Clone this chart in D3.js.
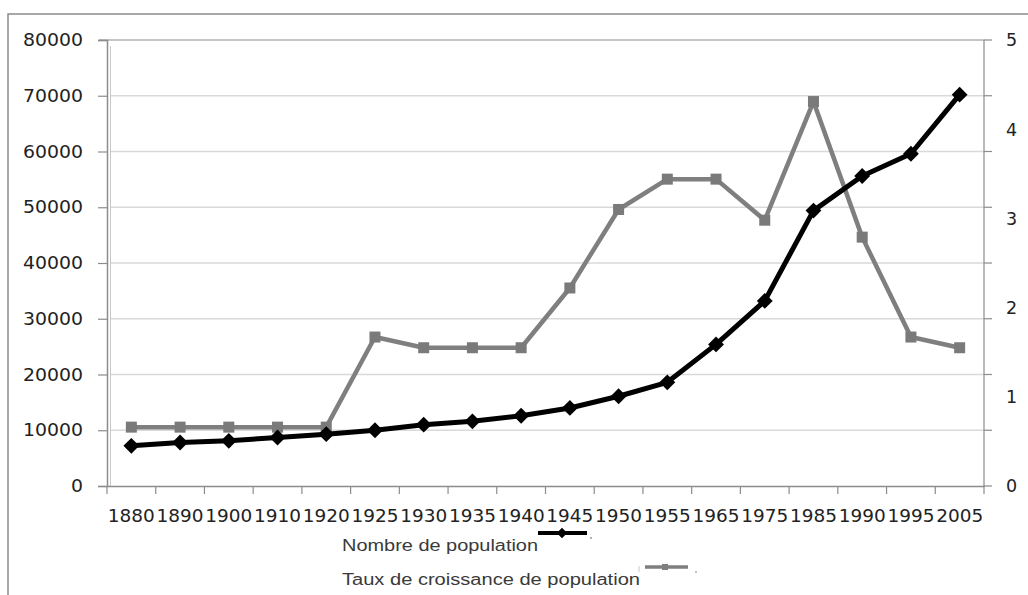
<!DOCTYPE html>
<html><head><meta charset="utf-8">
<script src="https://cdn.jsdelivr.net/npm/d3@7"></script>
<style>html,body{margin:0;padding:0;background:#fff;}svg{display:block;}</style>
</head><body>
<svg id="c" width="1028" height="595"></svg>
<script>
const years = ["1880","1890","1900","1910","1920","1925","1930","1935","1940","1945","1950","1955","1965","1975","1985","1990","1995","2005"];
const population = [7200,7800,8100,8700,9300,10000,11000,11600,12600,14000,16100,18600,25400,33200,49400,55600,59600,70200];
const growthRate = [0.66,0.66,0.66,0.66,0.66,1.67,1.55,1.55,1.55,2.22,3.1,3.44,3.44,2.98,4.31,2.79,1.67,1.55];
const leftTicks = [0,10000,20000,30000,40000,50000,60000,70000,80000];
const rightTicks = [0,1,2,3,4,5];
const seriesNames = ["Nombre de population","Taux de croissance de population"];

const svg = d3.select("#c");
const L = 107, R = 984, T = 40, B = 486;
const x = d3.scaleBand().domain(years).range([L, R]);
const yL = d3.scaleLinear().domain([0, 80000]).range([B, T]);
const yR = d3.scaleLinear().domain([0, 5]).range([B, T]);

// outer border
svg.append("path").attr("d","M8,595V14H1028").attr("fill","none").attr("stroke","#8c8c8c").attr("stroke-width",1.5);

// gridlines
svg.append("g").selectAll("line").data(leftTicks.filter(d=>d>0 && d<80000)).join("line")
  .attr("x1",L+3).attr("x2",R).attr("y1",d=>yL(d)).attr("y2",d=>yL(d))
  .attr("stroke","#d9d9d9").attr("stroke-width",1.5);

// plot border top/right
svg.append("path").attr("d",`M${L-8},${T}H${R}V${B}`).attr("fill","none").attr("stroke","#8c8c8c").attr("stroke-width",1.2);
svg.append("line").attr("x1",L+3.5).attr("x2",L+3.5).attr("y1",T+6).attr("y2",B).attr("stroke","#c8c8c8").attr("stroke-width",1);

// left axis
const gL = svg.append("g").attr("transform",`translate(${L},0)`)
  .call(d3.axisLeft(yL).tickValues(leftTicks).tickSize(9).tickPadding(15).tickFormat(d3.format("d")));
gL.select(".domain").attr("stroke","#8c8c8c").attr("stroke-width",1.5);
gL.selectAll(".tick line").attr("stroke","#8c8c8c").attr("stroke-width",1.2);
gL.selectAll("text").attr("font-family","DejaVu Sans").attr("font-size",17.5).attr("fill","#222")
  .attr("textLength",d=>String(d).length*12).attr("lengthAdjust","spacingAndGlyphs");

// right axis: ticks at left-grid positions, labels at right values
const gR = svg.append("g").attr("transform",`translate(${R},0)`);
gR.selectAll("line").data(leftTicks).join("line")
  .attr("x1",0).attr("x2",8).attr("y1",d=>yL(d)).attr("y2",d=>yL(d)).attr("stroke","#8c8c8c").attr("stroke-width",1.2);
gR.selectAll("text").data(rightTicks).join("text")
  .attr("x",22).attr("y",d=>yR(d)).attr("dy","0.36em")
  .attr("font-family","DejaVu Sans").attr("font-size",17.5).attr("fill","#222").text(d=>d);

// x axis
const gX = svg.append("g").attr("transform",`translate(0,${B})`)
  .call(d3.axisBottom(x).tickSize(0).tickPadding(24));
gX.select(".domain").attr("stroke","#8c8c8c").attr("stroke-width",1.5);
gX.selectAll("text").attr("font-family","DejaVu Sans").attr("font-size",17.5).attr("fill","#222")
  .attr("textLength",47).attr("lengthAdjust","spacingAndGlyphs");
const bounds = years.map(d=>x(d)).concat([R]);
gX.append("g").selectAll("line").data(bounds).join("line")
  .attr("x1",d=>d).attr("x2",d=>d).attr("y1",0).attr("y2",8).attr("stroke","#8c8c8c").attr("stroke-width",1.2);

const cx = d => x(d) + x.bandwidth()/2;

// gray series
const lineR = d3.line().x((d,i)=>cx(years[i])).y(d=>yR(d));
svg.append("path").datum(growthRate).attr("d",lineR).attr("fill","none")
  .attr("stroke","#7f7f7f").attr("stroke-width",4.5).attr("stroke-linejoin","round");
svg.append("g").selectAll("rect").data(growthRate).join("rect")
  .attr("x",(d,i)=>cx(years[i])-5.5).attr("y",d=>yR(d)-5.5).attr("width",11).attr("height",11).attr("fill","#7a7a7a");

// black series
const lineL = d3.line().x((d,i)=>cx(years[i])).y(d=>yL(d));
svg.append("path").datum(population).attr("d",lineL).attr("fill","none")
  .attr("stroke","#000").attr("stroke-width",5).attr("stroke-linejoin","round");
const diamond = d3.symbol().type(d3.symbolDiamond2).size(160);
svg.append("g").selectAll("path").data(population).join("path")
  .attr("transform",(d,i)=>`translate(${cx(years[i])},${yL(d)})`).attr("d",diamond).attr("fill","#000");

// legend
const lg = svg.append("g");
lg.append("text").attr("x",342).attr("y",551).attr("font-family","Liberation Sans").attr("font-size",16)
  .attr("fill","#3a3a3a").attr("textLength",196).attr("lengthAdjust","spacingAndGlyphs").text(seriesNames[0]);
lg.append("text").attr("x",342).attr("y",585).attr("font-family","Liberation Sans").attr("font-size",16)
  .attr("fill","#3a3a3a").attr("textLength",298).attr("lengthAdjust","spacingAndGlyphs").text(seriesNames[1]);
lg.append("line").attr("x1",538).attr("x2",587).attr("y1",533).attr("y2",533).attr("stroke","#000").attr("stroke-width",4);
lg.append("path").attr("transform","translate(562,533)").attr("d",d3.symbol().type(d3.symbolDiamond2).size(70)).attr("fill","#000");
lg.append("circle").attr("cx",591).attr("cy",538).attr("r",1).attr("fill","#999");
lg.append("line").attr("x1",645).attr("x2",688).attr("y1",567).attr("y2",567).attr("stroke","#7f7f7f").attr("stroke-width",3.5);
lg.append("rect").attr("x",662).attr("y",564).attr("width",6).attr("height",6).attr("fill","#7f7f7f");
lg.append("line").attr("x1",639).attr("x2",639).attr("y1",566).attr("y2",572).attr("stroke","#ccc").attr("stroke-width",1);
lg.append("circle").attr("cx",696).attr("cy",572).attr("r",1).attr("fill","#aaa");
</script>
</body></html>
